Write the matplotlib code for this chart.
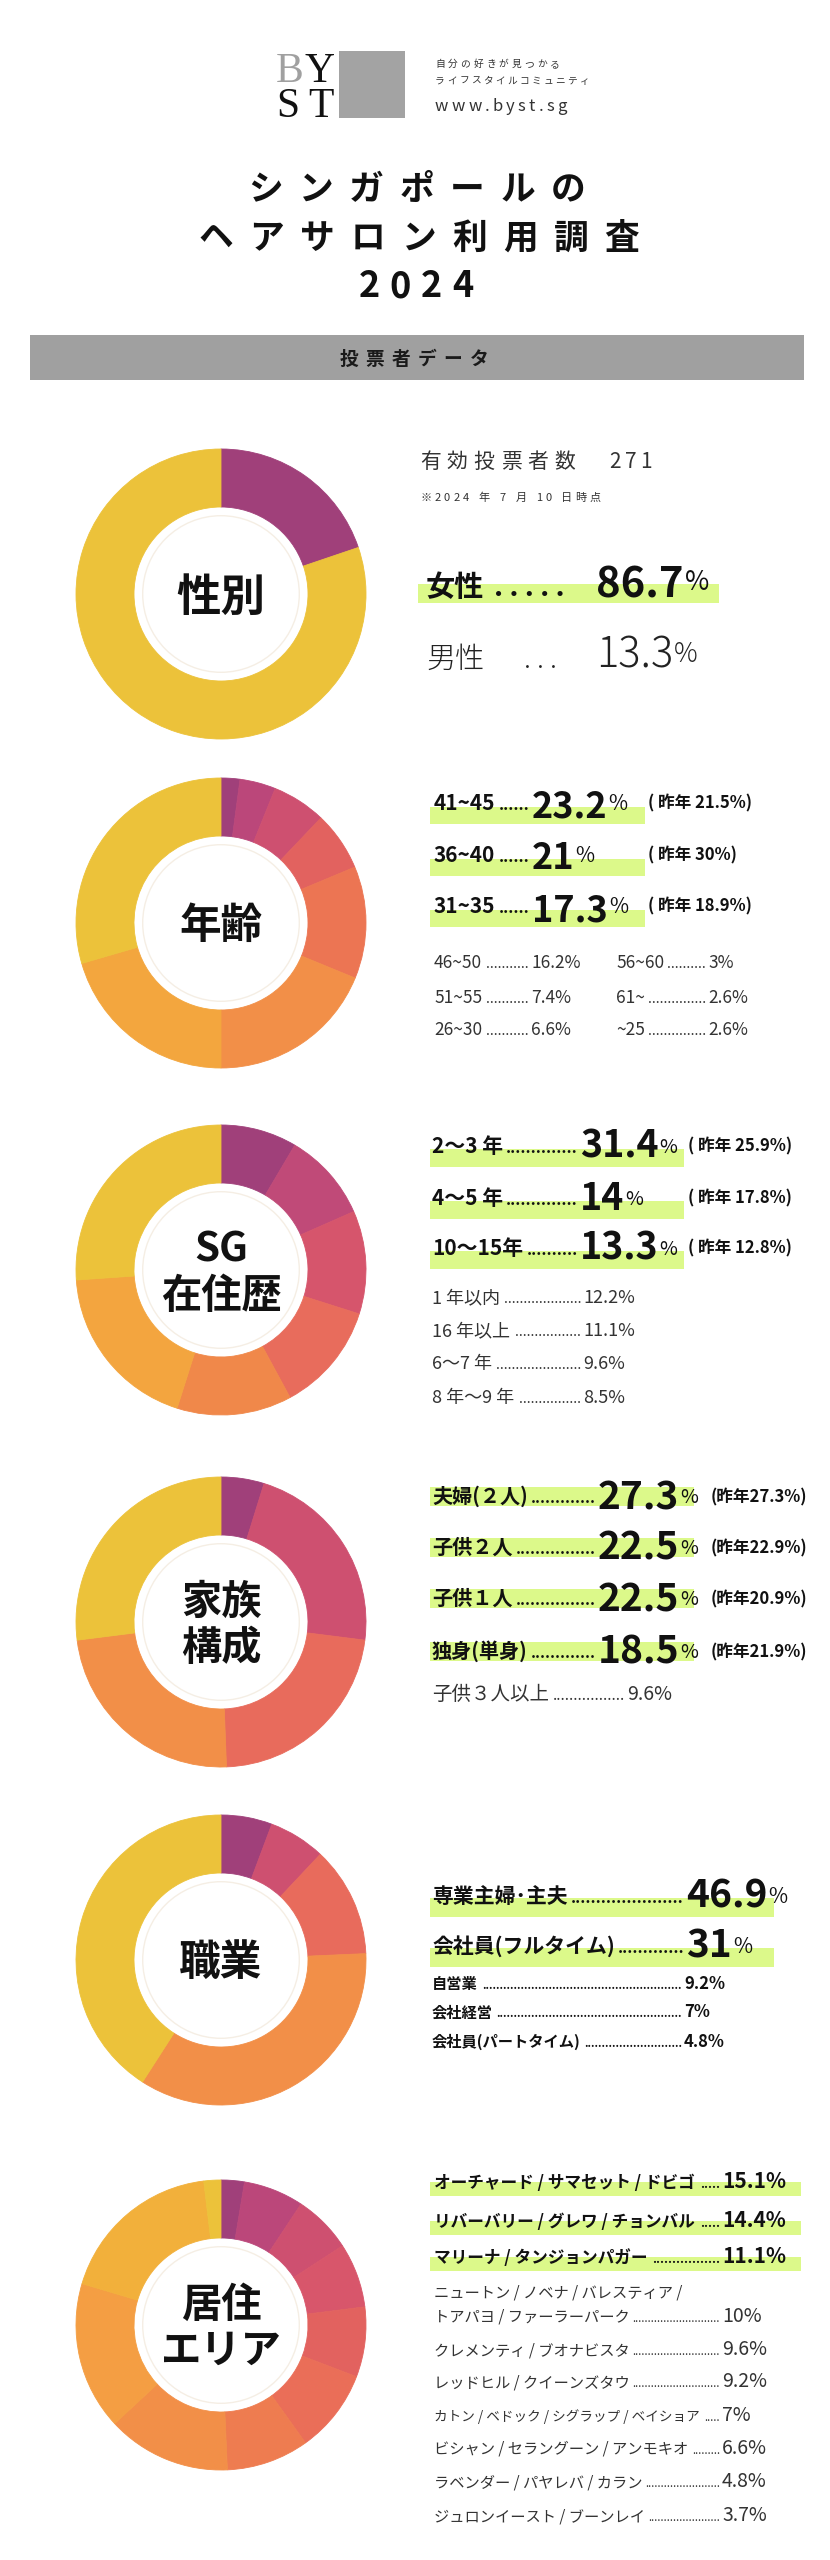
import matplotlib
matplotlib.use('Agg')
import matplotlib.pyplot as plt
from matplotlib.patches import Rectangle, Circle

plt.rcParams['font.family'] = ['Noto Sans CJK JP', 'DejaVu Sans']

# ---- data ----
# donut wedge sizes as drawn (read off the rings, clockwise from 12 o'clock)
sex_ring = [19.8, 80.2]
age_ring = [2.1, 4.0, 6.0, 6.6, 12.5, 18.8, 20.5, 29.5]
sg_ring = [8.5, 9.9, 11.5, 12.2, 12.8, 19.0, 26.1]
family_ring = [4.8, 22.2, 22.4, 23.6, 27.0]
job_ring = [5.7, 6.3, 12.3, 34.8, 40.9]
area_ring = [2.6, 6.7, 6.5, 7.2, 7.8, 9.3, 9.2, 13.8, 16.5, 18.5, 1.9]

voters = '271'
sex_labels = ['女性', '男性']
sex_values = ['86.7', '13.3']

age_top = ['41~45', '36~40', '31~35']
age_top_val = ['23.2', '21', '17.3']
age_top_prev = ['21.5%', '30%', '18.9%']
age_rest = ['46~50', '51~55', '26~30', '56~60', '61~', '~25']
age_rest_val = ['16.2%', '7.4%', '6.6%', '3%', '2.6%', '2.6%']

sg_top = ['2～3 年', '4～5 年', '10～15年']
sg_top_val = ['31.4', '14', '13.3']
sg_top_prev = ['25.9%', '17.8%', '12.8%']
sg_rest = ['1 年以内', '16 年以上', '6～7 年', '8 年～9 年']
sg_rest_val = ['12.2%', '11.1%', '9.6%', '8.5%']

family_top = ['夫婦(２人)', '子供２人', '子供１人', '独身(単身)']
family_top_val = ['27.3', '22.5', '22.5', '18.5']
family_top_prev = ['27.3%', '22.9%', '20.9%', '21.9%']
family_rest = ['子供３人以上']
family_rest_val = ['9.6%']

job_top = ['専業主婦･主夫', '会社員(フルタイム)']
job_top_val = ['46.9', '31']
job_rest = ['自営業', '会社経営', '会社員(パートタイム)']
job_rest_val = ['9.2%', '7%', '4.8%']

area_top = ['オーチャード / サマセット / ドビゴ', 'リバーバリー / グレワ / チョンバル',
            'マリーナ / タンジョンパガー']
area_top_val = ['15.1%', '14.4%', '11.1%']
area_rest = ['トアパヨ / ファーラーパーク', 'クレメンティ / ブオナビスタ', 'レッドヒル / クイーンズタウ',
             'カトン / ベドック / シグラップ / ベイショア', 'ビシャン / セラングーン / アンモキオ',
             'ラベンダー / パヤレバ / カラン', 'ジュロンイースト / ブーンレイ']
area_rest_val = ['10%', '9.6%', '9.2%', '7%', '6.6%', '4.8%', '3.7%']

# colours
P, M, K, K2, R = '#A0407A', '#BB477A', '#CE5070', '#D8566B', '#E2625F'
C, CO, O, O2, LO, Y = '#EA6E58', '#EE7C50', '#F28F48', '#F49E43', '#F2AC3C', '#ECC23A'
HL = '#DCF98A'
INK = '#111111'
SOFT = '#333333'

W, H = 830, 2560
fig = plt.figure(figsize=(W / 100, H / 100), dpi=100, facecolor='white')
bg = fig.add_axes([0, 0, 1, 1])
bg.set_xlim(0, W)
bg.set_ylim(H, 0)
bg.axis('off')
rend = fig.canvas.get_renderer()


def put(x, y, s, size, weight='normal', color=INK, ha='left', va='baseline', **kw):
    return bg.text(x, y, s, fontsize=size, fontweight=weight, color=color, ha=ha, va=va, **kw)


def width(t):
    return t.get_window_extent(renderer=rend).width


def leader(x0, x1, y, size, weight='normal', color=INK):
    probe = put(0, 0, '.' * 20, size, weight)
    step = width(probe) / 20
    probe.remove()
    n = max(int((x1 - x0) / step), 0)
    put(x1, y, '.' * n, size, weight, color, ha='right')


def spaced(xc, y, s, size, pitch, **kw):
    x0 = xc - pitch * (len(s) - 1) / 2
    for i, ch in enumerate(s):
        put(x0 + i * pitch, y, ch, size, ha='center', **kw)


def tracked(x, y, s, size, gap, **kw):
    for ch in s:
        if ch == ' ':
            x += size * 100 / 72 * 0.3 + gap
            continue
        t = put(x, y, ch, size, **kw)
        x += width(t) + gap
    return x


def hl(x, y, w, h):
    bg.add_patch(Rectangle((x, y), w, h, color=HL, lw=0, zorder=0))


def donut(cy, vals, cols, lines, size):
    r, cx = 145, 221
    ax = fig.add_axes([(cx - r) / W, 1 - (cy + r) / H, 2 * r / W, 2 * r / H])
    wedges, _ = ax.pie(vals, colors=cols, startangle=90, counterclock=False, radius=1,
                       wedgeprops=dict(width=0.4))
    for w in wedges:
        w.set_edgecolor(w.get_facecolor())
        w.set_linewidth(0.6)
    ax.add_patch(Circle((0, 0), 0.54, fill=False, ec='#F5EEE4', lw=1))
    ax.set_xlim(-1, 1)
    ax.set_ylim(-1, 1)
    ax.axis('off')
    px = size * 100 / 72
    gapl = px * 1.15
    y0 = cy - gapl * (len(lines) - 1) / 2
    for i, s in enumerate(lines):
        put(cx, y0 + i * gapl + 0.37 * px, s, size, 'bold', ha='center')


def big_row(xl, yl, label, lsize, xn, yn, num, nsize, psize, prev=None, xp=None, yp=None):
    t = put(xl, yl, label, lsize, 'bold')
    n = put(xn, yn, num, nsize, 'bold')
    leader(xl + width(t) + 1, xn - 2, yl, lsize * 0.75, 'bold')
    put(xn + width(n) + 1, yl, '%', psize, 'normal')
    if prev is not None:
        put(xp, yp, prev, 12, 'bold')


def small_row(xl, y, label, xv, val, size, vsize, weight='normal', color=SOFT, dsize=None):
    t = put(xl, y, label, size, weight, color)
    put(xv, y, val, vsize, weight, color)
    leader(xl + width(t) + 2, xv - 2, y, dsize or size * 0.8, weight, color)


# ---- header ----
put(276, 82, 'B', 30, color='#A0A0A0', family='Liberation Serif')
put(334, 82, 'Y', 30, ha='right', family='Liberation Serif')
put(276, 117, 'S', 30, family='Liberation Serif')
put(334, 117, 'T', 30, ha='right', family='Liberation Serif')
bg.add_patch(Rectangle((339, 51), 66, 67, color='#A3A3A3', lw=0))
tracked(435, 67, '自分の好きが見つかる', 7, 3, color=SOFT)
tracked(435, 84, 'ライフスタイルコミュニティ', 7, 2.3, color=SOFT)
tracked(435, 111, 'www.byst.sg', 12, 3.2, color=SOFT)

spaced(417, 188 + 12, 'シンガポールの', 25, 50.5, weight='bold')
spaced(419, 237 + 12, 'ヘアサロン利用調査', 25, 50.7, weight='bold')
spaced(416, 285 + 12, '2024', 26, 31, weight='bold')

bg.add_patch(Rectangle((30, 335), 774, 45, color='#A0A0A0', lw=0))
spaced(414, 358 + 7, '投票者データ', 13.5, 26, weight='bold', color='#1A1A1A')

# ---- 性別 ----
donut(594, sex_ring, [P, Y], ['性別'], 32)
tracked(420, 468, '有効投票者数', 15, 6, color=SOFT)
tracked(609, 468, voters, 15, 4, color=SOFT)
tracked(420, 501, '※2024 年 7 月 10 日時点', 8, 3.2, color=SOFT)
hl(418, 584, 301, 19)
put(426, 596, sex_labels[0], 21, 'bold')
put(494, 596, '. . . . .', 20, 'bold')
n = put(596, 597, sex_values[0], 30, 'bold')
put(596 + width(n) + 1, 590, '%', 19)
put(426, 668, sex_labels[1], 21, 'light', color='#222222')
put(524, 668, '. . .', 20, 'light', color='#222222')
n = put(596, 668, sex_values[1], 30, 'light', color='#222222')
put(596 + width(n) + 1, 662, '%', 19, 'light', color='#222222')

# ---- 年齢 ----
donut(923, age_ring, [P, M, K, R, '#EC7553', O, '#F3A63E', Y], ['年齢'], 30)
age_lab_y = [810, 862, 913]
age_num_y = [817, 869, 921]
for i in range(3):
    hl(430, age_lab_y[i] - 3, 215, 17)
    big_row(434, age_lab_y[i], age_top[i], 15, 532, age_num_y[i], age_top_val[i], 26, 15,
            '( 昨年 ' + age_top_prev[i] + ')', 648, age_lab_y[i] - 2)
age_rest_y = [968, 1003, 1035]
for i in range(6):
    col = i // 3
    small_row([434, 616][col], age_rest_y[i % 3], age_rest[i], [531, 708][col],
              age_rest_val[i], 12.5, 12.5)

# ---- SG 在住歴 ----
donut(1270, sg_ring, [P, '#C04A78', '#D6556C', '#E86C5C', '#F0884A', '#F3A53F', Y], ['SG', '在住歴'], 29)
sg_lab_y = [1153, 1205, 1255]
sg_num_y = [1158, 1210, 1260]
for i in range(3):
    hl(430, sg_lab_y[i] - 4, 254, 18)
    big_row(432, sg_lab_y[i], sg_top[i], 15, 580, sg_num_y[i], sg_top_val[i], 27, 14,
            '( 昨年 ' + sg_top_prev[i] + ')', 688, sg_lab_y[i] - 2)
sg_rest_y = [1303, 1336, 1369, 1403]
for i in range(4):
    small_row(432, sg_rest_y[i], sg_rest[i], 583, sg_rest_val[i], 13, 13)

# ---- 家族構成 ----
donut(1622, family_ring, [P, K, '#E86B5C', O, Y], ['家族', '構成'], 29)
fam_lab_y = [1503, 1554, 1605, 1658]
fam_num_y = [1510, 1560, 1612, 1663]
for i in range(4):
    hl(430, fam_lab_y[i] - 16, 264, 19)
    big_row(432, fam_lab_y[i], family_top[i], 14.5, 598, fam_num_y[i], family_top_val[i], 28, 14,
            '(昨年' + family_top_prev[i] + ')', 711, fam_lab_y[i] - 1)
small_row(432, 1700, family_rest[0], 627, family_rest_val[0], 14, 14)

# ---- 職業 ----
donut(1960, job_ring, [P, K, '#E86B5C', O, Y], ['職業'], 30)
job_lab_y = [1903, 1953]
job_num_y = [1908, 1958]
for i in range(2):
    hl(430, job_lab_y[i] - 5, 344, 19)
    big_row(432, job_lab_y[i], job_top[i], 15, 686, job_num_y[i], job_top_val[i], 28, 15)
job_rest_y = [1989, 2017, 2047]
for i in range(3):
    small_row(432, job_rest_y[i], job_rest[i], 684, job_rest_val[i], 11, 12, 'bold', INK, 8)

# ---- 居住エリア ----
donut(2325, area_ring, [P, M, K, K2, R, C, CO, O, O2, '#F2B03B', Y], ['居住', 'エリア'], 29)
area_top_y = [2188, 2227, 2263]
for i in range(3):
    hl(430, area_top_y[i] - 6, 371, 14)
    small_row(434, area_top_y[i], area_top[i], 722, area_top_val[i], 12, 15, 'bold', INK, 9)
put(434, 2297, 'ニュートン / ノベナ / バレスティア /', 11, color=SOFT)
area_rest_y = [2322, 2355, 2387, 2421, 2454, 2487, 2521]
for i in range(7):
    small_row(434, area_rest_y[i], area_rest[i], 722, area_rest_val[i], 11 if i != 3 else 9.8,
              14, 'normal', SOFT, 8)

fig.savefig('out.png', dpi=100, facecolor='white')
